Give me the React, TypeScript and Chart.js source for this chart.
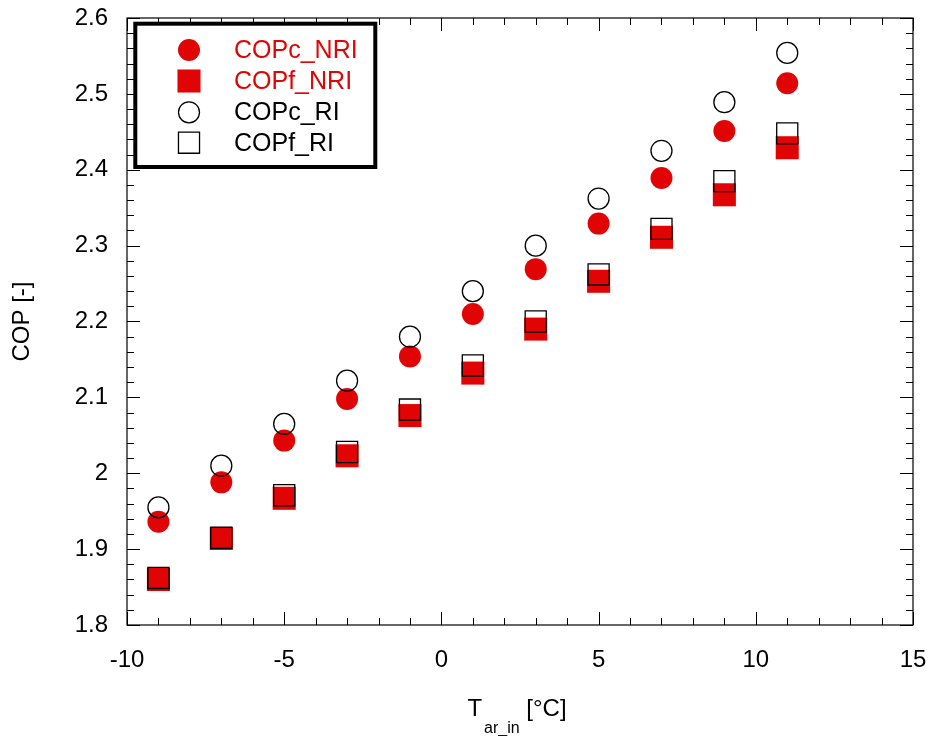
import React, { useEffect, useRef } from 'react';
import { Chart, registerables } from 'chart.js';

Chart.register(...registerables);

// ---- data ----
const temperatures = [-9, -7, -5, -3, -1, 1, 3, 5, 7, 9, 11];
const copcNRI = [1.936, 1.988, 2.043, 2.098, 2.154, 2.21, 2.269, 2.329, 2.389, 2.451, 2.514];
const copfNRI = [1.86, 1.914, 1.967, 2.023, 2.076, 2.132, 2.19, 2.253, 2.311, 2.367, 2.429];
const copcRI = [1.955, 2.01, 2.065, 2.122, 2.18, 2.24, 2.3, 2.362, 2.425, 2.489, 2.554];
const copfRI = [1.862, 1.915, 1.971, 2.028, 2.084, 2.142, 2.2, 2.262, 2.322, 2.385, 2.448];
const seriesLabels = ['COPc_NRI', 'COPf_NRI', 'COPc_RI', 'COPf_RI'];
const xRange = [-10, 15];
const yRange = [1.8, 2.6];
const yTitle = 'COP [-]';
const xTitleMain = 'T';
const xTitleSub = 'ar_in';
const xTitleUnit = ' [°C]';

const RED = 'rgb(224,4,4)';
const FONT = '"Liberation Sans", Arial, sans-serif';

const toPoints = (ys: number[]) => temperatures.map((t, i) => ({ x: t, y: ys[i] }));

const framePlugin = {
  id: 'frameTicks',
  beforeDatasetsDraw(chart: any) {
    const { ctx, chartArea: a, scales } = chart;
    const xs = scales.x;
    const ys = scales.y;
    ctx.save();
    ctx.strokeStyle = '#000';
    ctx.lineWidth = 1.2;
    ctx.strokeRect(a.left, a.top, a.right - a.left, a.bottom - a.top);
    ctx.lineWidth = 1;
    ctx.beginPath();
    for (let v = xRange[0]; v <= xRange[1]; v++) {
      const px = Math.round(xs.getPixelForValue(v)) + 0.5;
      const len = v % 5 === 0 ? 13 : 7;
      ctx.moveTo(px, a.bottom);
      ctx.lineTo(px, a.bottom - len);
      ctx.moveTo(px, a.top);
      ctx.lineTo(px, a.top + len);
    }
    for (let i = 0; i <= 40; i++) {
      const v = yRange[0] + i * 0.02;
      const py = Math.round(ys.getPixelForValue(v)) + 0.5;
      const len = i % 5 === 0 ? 13 : 7;
      ctx.moveTo(a.left, py);
      ctx.lineTo(a.left + len, py);
      ctx.moveTo(a.right, py);
      ctx.lineTo(a.right - len, py);
    }
    ctx.stroke();
    ctx.restore();
  },
  afterDraw(chart: any) {
    const { ctx, chartArea: a } = chart;
    ctx.save();
    // y title
    ctx.fillStyle = '#000';
    ctx.font = `24px ${FONT}`;
    ctx.textAlign = 'center';
    ctx.textBaseline = 'middle';
    ctx.translate(22, (a.top + a.bottom) / 2);
    ctx.rotate(-Math.PI / 2);
    ctx.fillText(yTitle, 0, 0);
    ctx.restore();

    // x title with subscript
    ctx.save();
    ctx.fillStyle = '#000';
    ctx.textBaseline = 'alphabetic';
    ctx.textAlign = 'left';
    const mainFont = `24px ${FONT}`;
    const subFont = `16px ${FONT}`;
    ctx.font = mainFont;
    const wT = ctx.measureText(xTitleMain).width;
    const wU = ctx.measureText(xTitleUnit).width;
    ctx.font = subFont;
    const wS = ctx.measureText(xTitleSub).width;
    const total = wT + 2 + wS + wU;
    let x0 = 517 - total / 2;
    const base = 716;
    ctx.font = mainFont;
    ctx.fillText(xTitleMain, x0, base);
    x0 += wT + 2;
    ctx.font = subFont;
    ctx.fillText(xTitleSub, x0, base + 17);
    x0 += wS;
    ctx.font = mainFont;
    ctx.fillText(xTitleUnit, x0, base);
    ctx.restore();

    // legend
    ctx.save();
    ctx.fillStyle = '#fff';
    ctx.strokeStyle = '#000';
    ctx.lineWidth = 4;
    ctx.fillRect(135.3, 23.7, 240, 143.3);
    ctx.strokeRect(135.3, 23.7, 240, 143.3);
    const rows = [50, 81, 112.3, 142.7];
    const sx = 189;
    chart.data.datasets.forEach((ds: any, i: number) => {
      const cy = rows[i];
      const r = ds.pointRadius;
      ctx.beginPath();
      if (ds.pointStyle === 'circle') {
        ctx.arc(sx, cy, r, 0, Math.PI * 2);
      } else {
        const s = r * Math.SQRT1_2;
        ctx.rect(sx - s, cy - s, 2 * s, 2 * s);
      }
      if (ds.borderWidth > 0) {
        ctx.lineWidth = ds.borderWidth;
        ctx.strokeStyle = ds.borderColor;
        ctx.stroke();
      } else {
        ctx.fillStyle = ds.backgroundColor;
        ctx.fill();
      }
      ctx.fillStyle = ds.borderWidth > 0 ? '#000' : RED;
      ctx.font = `25px ${FONT}`;
      ctx.textAlign = 'left';
      ctx.textBaseline = 'middle';
      ctx.fillText(ds.label, 234, cy + 1);
    });
    ctx.restore();
  },
};

export default function App() {
  const ref = useRef<HTMLCanvasElement>(null);
  useEffect(() => {
    document.body.style.margin = '0';
    const canvas = ref.current;
    if (!canvas) return;
    const chart = new Chart(canvas, {
      type: 'scatter',
      data: {
        datasets: [
          {
            label: seriesLabels[0],
            data: toPoints(copcNRI),
            pointStyle: 'circle',
            pointRadius: 11,
            backgroundColor: RED,
            borderColor: RED,
            borderWidth: 0,
            order: 2,
          },
          {
            label: seriesLabels[1],
            data: toPoints(copfNRI),
            pointStyle: 'rect',
            pointRadius: 16.3,
            backgroundColor: RED,
            borderColor: RED,
            borderWidth: 0,
            order: 2,
          },
          {
            label: seriesLabels[2],
            data: toPoints(copcRI),
            pointStyle: 'circle',
            pointRadius: 10.5,
            backgroundColor: 'rgba(0,0,0,0)',
            borderColor: '#000',
            borderWidth: 1.3,
            order: 1,
          },
          {
            label: seriesLabels[3],
            data: toPoints(copfRI),
            pointStyle: 'rect',
            pointRadius: 14.9,
            backgroundColor: 'rgba(0,0,0,0)',
            borderColor: '#000',
            borderWidth: 1.3,
            order: 1,
          },
        ] as any,
      },
      options: {
        responsive: false,
        animation: false,
        events: [],
        layout: { padding: { top: 18, right: 17, left: 0, bottom: 0 } },
        plugins: { legend: { display: false }, tooltip: { enabled: false } },
        scales: {
          x: {
            type: 'linear',
            min: xRange[0],
            max: xRange[1],
            grid: { display: false, drawTicks: false },
            border: { display: false },
            ticks: {
              stepSize: 5,
              maxRotation: 0,
              autoSkip: false,
              padding: 21,
              color: '#000',
              font: { family: FONT, size: 24 },
            },
            afterFit: (s: any) => {
              s.height = 111;
              s.paddingLeft = 0;
              s.paddingRight = 0;
            },
          },
          y: {
            type: 'linear',
            min: yRange[0],
            max: yRange[1],
            grid: { display: false, drawTicks: false },
            border: { display: false },
            ticks: {
              stepSize: 0.1,
              autoSkip: false,
              padding: 19,
              color: '#000',
              font: { family: FONT, size: 24 },
              callback: (v: any) => String(Math.round(Number(v) * 10) / 10),
            },
            afterFit: (s: any) => {
              s.width = 127;
              s.paddingTop = 0;
              s.paddingBottom = 0;
            },
          },
        },
      },
      plugins: [framePlugin],
    });
    return () => chart.destroy();
  }, []);
  return (
    <div style={{ width: 930, height: 736 }}>
      <canvas ref={ref} width={930} height={736} style={{ display: 'block' }} />
    </div>
  );
}
